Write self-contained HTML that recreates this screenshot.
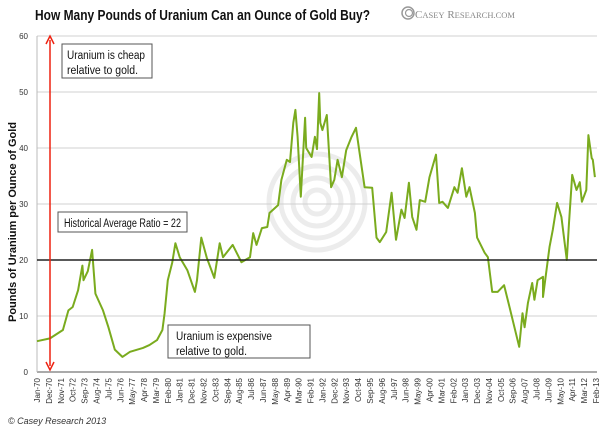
<!DOCTYPE html>
<html><head><meta charset="utf-8"><style>
body{margin:0;background:#fff;width:600px;height:432px;overflow:hidden;font-family:"Liberation Sans",sans-serif}
svg{display:block}
</style></head><body>
<svg width="600" height="432" xmlns="http://www.w3.org/2000/svg">
<text x="35" y="20" font-size="14.5" font-weight="bold" fill="#111" textLength="335" lengthAdjust="spacingAndGlyphs">How Many Pounds of Uranium Can an Ounce of Gold Buy?</text>
<g>
<circle cx="408" cy="13" r="6" fill="none" stroke="#999" stroke-width="1.5"/>
<circle cx="409" cy="13" r="3.5" fill="none" stroke="#999" stroke-width="1.2"/>
<text x="415" y="18" font-family="Liberation Serif,serif" font-size="11" fill="#888" textLength="100" lengthAdjust="spacingAndGlyphs">C<tspan font-size="8.5">ASEY</tspan> R<tspan font-size="8.5">ESEARCH.COM</tspan></text>
</g>
<g id="watermark" fill="none" stroke="#ececec" stroke-width="5">
<circle cx="317" cy="202" r="48"/><circle cx="317" cy="202" r="36"/><circle cx="317" cy="202" r="24"/><circle cx="317" cy="202" r="12"/>
</g>
<g id="grid"></g>
<g id="axes"></g>
<path id="series" fill="none" stroke="#7aab1e" stroke-width="2" stroke-linejoin="round"/>
<line x1="37" x2="597" id="avgline" stroke="#222" stroke-width="1.6"/>
<g stroke="#e21" fill="#e21">
<line x1="50" y1="40" x2="50" y2="366" stroke-width="1.5"/>
<path d="M46,44 L50,36 L54,44" fill="none" stroke-width="1.5"/>
<path d="M46,362 L50,370 L54,362" fill="none" stroke-width="1.5"/>
</g>
<g font-size="11.5" fill="#111">
<g><rect x="62" y="44" width="90" height="34" fill="#fff" stroke="#555"/>
<text x="67" y="59" textLength="78" lengthAdjust="spacingAndGlyphs">Uranium is cheap</text><text x="67" y="74" textLength="71" lengthAdjust="spacingAndGlyphs">relative to gold.</text></g>
<g><rect x="58" y="212" width="129" height="20" fill="#fff" stroke="#555"/>
<text x="64" y="227" textLength="117" lengthAdjust="spacingAndGlyphs">Historical Average Ratio = 22</text></g>
<g><rect x="168" y="325" width="142" height="33" fill="#fff" stroke="#555"/>
<text x="176" y="340" textLength="96" lengthAdjust="spacingAndGlyphs">Uranium is expensive</text><text x="176" y="355" textLength="71" lengthAdjust="spacingAndGlyphs">relative to gold.</text></g>
</g>
<text transform="translate(16,222) rotate(-90)" text-anchor="middle" font-size="11" font-weight="bold" fill="#111" textLength="200" lengthAdjust="spacingAndGlyphs">Pounds of Uranium per Ounce of Gold</text>
<text x="8" y="424" font-size="9" font-style="italic" fill="#333">© Casey Research 2013</text>
</svg>
<script>
const months=[0,12,24,29,33,38,42,43,47,51,54,58,61,66,72,79,86,98,104,111,116,118,121,125,128,132,139,146,148,152,157,164,169,172,181,189,197,200,203,208,213,215,223,226,231,234,237,239,241,244,248,249,254,257,259,261,262,264,268,272,275,278,282,286,291,295,298,303,310,314,317,323,328,332,337,340,344,347,351,354,359,363,369,372,375,380,386,389,393,397,400,405,407,414,417,421,426,432,437,446,449,451,454,458,460,463,468,468,474,477,481,485,490,492,495,499,502,504,508,510,513,514,516];
const ratios=[5.5,6,7.5,11,11.6,14.6,19,16.4,18,21.8,14,12.3,11,8,4,2.7,3.6,4.3,4.8,5.7,7.5,10.5,16.4,19.5,23,20.5,18.2,14.3,16.4,24,20.4,16.8,23,20.5,22.7,19.6,20.5,24.8,22.7,25.7,25.9,28.4,29.8,34.3,37.9,37.5,44.5,46.8,42,31.3,45.4,40,38.4,42,39.8,49.8,44.5,43.2,45.9,33,34.3,37.9,34.8,39.6,42,43.6,39.6,33,32.9,24,23.2,25,32,23.6,29,27.5,33.8,27.7,25.4,30.7,30.4,34.8,38.8,30.2,30.4,29.3,33,32,36.4,31.3,33,28.4,24,21.3,20.5,14.3,14.3,15.5,11.6,4.5,10.5,8,12.3,15.9,12.9,16.4,17,13.4,22.3,25.4,30.2,27.7,20,26.6,35.2,32.5,33.9,30.4,32.5,42.3,38.2,37.9,34.8];
const yTicks=[0,10,20,30,40,50,60];
const avgRatio=20;
const monthNames=["Jan","Feb","Mar","Apr","May","Jun","Jul","Aug","Sep","Oct","Nov","Dec"];
const X0=37,X1=596,Y0=372,Y1=36,MMAX=517;
function xs(m){return X0+m*(X1-X0)/MMAX;}
function ys(v){return Y0-v*(Y0-Y1)/60;}
const NS="http://www.w3.org/2000/svg";
const grid=document.getElementById('grid'),axes=document.getElementById('axes');
yTicks.forEach(t=>{
  const l=document.createElementNS(NS,'line');
  l.setAttribute('x1',X0);l.setAttribute('x2',597);l.setAttribute('y1',ys(t));l.setAttribute('y2',ys(t));
  l.setAttribute('stroke',t===0?'#aaa':'#d0d0d0');l.setAttribute('stroke-width',t===0?2:1);
  
  
  grid.appendChild(l);
  const tx=document.createElementNS(NS,'text');
  tx.setAttribute('x',28);tx.setAttribute('y',ys(t)+3);tx.setAttribute('text-anchor','end');tx.setAttribute('font-size','8');tx.setAttribute('fill','#333');
  tx.textContent=t;
  
  
  axes.appendChild(tx);
});
const yl=document.createElementNS(NS,'line');
yl.setAttribute('x1',X0);yl.setAttribute('x2',X0);yl.setAttribute('y1',Y1);yl.setAttribute('y2',Y0);yl.setAttribute('stroke','#bbb');


axes.appendChild(yl);
for(let m=0;m<=MMAX;m+=11){
  const yr=1970+Math.floor(m/12),mo=m%12;
  const tx=document.createElementNS(NS,'text');
  const x=xs(m)+3;
  tx.setAttribute('transform','translate('+x+',378) rotate(-90)');
  tx.setAttribute('text-anchor','end');tx.setAttribute('font-size','8');tx.setAttribute('fill','#333');
  tx.textContent=monthNames[mo]+'-'+String(yr%100).padStart(2,'0');
  
  
  axes.appendChild(tx);
}
document.getElementById('series').setAttribute('d',months.map((m,i)=>(i?'L':'M')+xs(m).toFixed(1)+','+ys(ratios[i]).toFixed(1)).join(''));
const al=document.getElementById('avgline');al.setAttribute('y1',ys(avgRatio));al.setAttribute('y2',ys(avgRatio));
</script>
</body></html>
